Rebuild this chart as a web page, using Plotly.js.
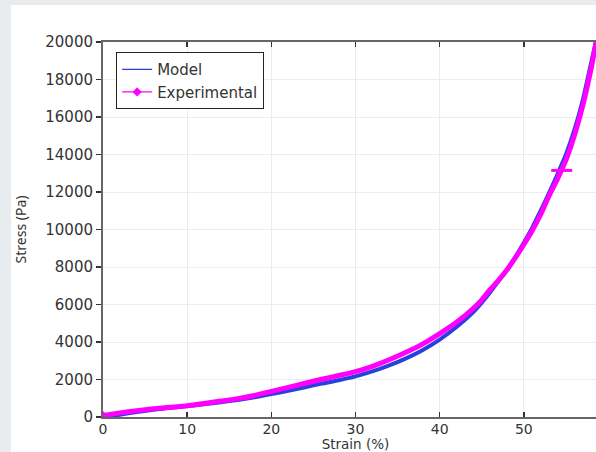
<!DOCTYPE html>
<html>
<head>
<meta charset="utf-8">
<script src="https://cdn.plot.ly/plotly-3.0.1.min.js"></script>
<style>
  html, body { margin: 0; padding: 0; width: 596px; height: 452px; overflow: hidden; background: #e8ecef; }
  #chart { position: absolute; left: 11px; top: 5px; width: 600px; height: 447px; background: #ffffff; }
</style>
</head>
<body>
<div id="chart"></div>
<script>
// Strain (%) and stress (Pa)
const modelStrain = [0, 2, 4, 6, 8, 10, 12, 14, 16, 18, 20, 22, 24, 26, 28, 30, 32, 34, 36, 38, 40, 42, 44, 45, 46, 47, 48, 49, 50, 51, 52, 53, 54, 55, 56, 57, 58, 58.6];
const modelStress = [0, 120, 270, 390, 490, 580, 680, 790, 910, 1050, 1220, 1400, 1590, 1780, 1960, 2170, 2430, 2750, 3130, 3580, 4130, 4800, 5600, 6100, 6650, 7250, 7850, 8550, 9300, 10100, 11000, 11950, 12950, 14000, 15300, 16900, 18900, 20100];

const expStrain = [0, 2, 4, 6, 8, 10, 12, 14, 16, 18, 20, 22, 24, 26, 28, 30, 32, 34, 36, 38, 40, 42, 44, 45, 46, 47, 48, 49, 50, 51, 52, 53, 54, 55, 56, 57, 58, 58.6];
const expStress = [80, 220, 340, 440, 520, 600, 720, 850, 980, 1150, 1370, 1580, 1800, 2010, 2210, 2420, 2700, 3050, 3450, 3900, 4450, 5050, 5800, 6250, 6800, 7300, 7850, 8500, 9200, 9950, 10800, 11800, 12700, 13700, 15000, 16600, 18600, 20000];

// single marked point on the experimental curve
const markStrain = [54.5];
const markStress = [13150];

const xTicks = [0, 10, 20, 30, 40, 50];
const yTicks = [0, 2000, 4000, 6000, 8000, 10000, 12000, 14000, 16000, 18000, 20000];

const font = "DejaVu Sans, Verdana, sans-serif";
const blue = '#2a3fe0';
const magenta = '#ff00ff';

const traces = [
  // thin legend-entry traces (hidden beneath the thick curves)
  {
    x: modelStrain, y: modelStress, name: 'Model', type: 'scatter', mode: 'lines',
    line: { color: blue, width: 1.2, shape: 'spline', smoothing: 0.6 }
  },
  {
    x: expStrain, y: expStress, name: 'Experimental', type: 'scatter', mode: 'lines+markers',
    line: { color: magenta, width: 1.2, shape: 'spline', smoothing: 0.6 },
    marker: { symbol: 'diamond', size: 7, color: magenta, maxdisplayed: 1 }
  },
  // thick visible curves
  {
    x: modelStrain, y: modelStress, name: 'Model', type: 'scatter', mode: 'lines', showlegend: false,
    line: { color: blue, width: 4, shape: 'spline', smoothing: 0.6 }
  },
  {
    x: expStrain, y: expStress, name: 'Experimental', type: 'scatter', mode: 'lines', showlegend: false,
    line: { color: magenta, width: 5, shape: 'spline', smoothing: 0.6 }
  },
  {
    x: markStrain, y: markStress, name: 'mark', type: 'scatter', mode: 'markers', showlegend: false,
    marker: { symbol: 'line-ew-open', size: 15, color: magenta, line: { color: magenta, width: 3 } }
  }
];

const layout = {
  width: 600, height: 447,
  margin: { l: 92, r: 3, t: 37, b: 35 },
  paper_bgcolor: '#ffffff', plot_bgcolor: '#ffffff',
  font: { family: font, size: 14, color: '#333333' },
  showlegend: true,
  legend: {
    x: 0.026, y: 0.973, xanchor: 'left', yanchor: 'top',
    bgcolor: '#ffffff', bordercolor: '#222222', borderwidth: 1,
    font: { family: font, size: 15, color: '#333333' },
    tracegroupgap: 0
  },
  xaxis: {
    range: [0, 60], tickvals: xTicks, ticktext: xTicks.map(String),
    ticks: 'inside', ticklen: 5, tickcolor: '#333', tickwidth: 1.5,
    showline: true, linecolor: '#666666', linewidth: 2, mirror: 'ticks',
    showgrid: true, gridcolor: '#ececec', gridwidth: 1, zeroline: false,
    tickfont: { family: font, size: 14, color: '#333333' },
    ticklabelstandoff: -2,
    title: { text: 'Strain (%)', font: { family: font, size: 13.5, color: '#333333' }, standoff: 5 }
  },
  yaxis: {
    range: [0, 20000], tickvals: yTicks, ticktext: yTicks.map(String),
    ticks: 'outside', ticklen: 5, tickcolor: '#333', tickwidth: 1.5,
    showline: true, linecolor: '#666666', linewidth: 2, mirror: true,
    showgrid: true, gridcolor: '#ececec', gridwidth: 1, zeroline: false,
    tickfont: { family: font, size: 15, color: '#333333' },
    title: { text: 'Stress (Pa)', font: { family: 'Noto Sans, sans-serif', size: 14, color: '#333333' }, standoff: 18 }
  }
};

Plotly.newPlot('chart', traces, layout, { displayModeBar: false, staticPlot: true });
</script>
</body>
</html>
